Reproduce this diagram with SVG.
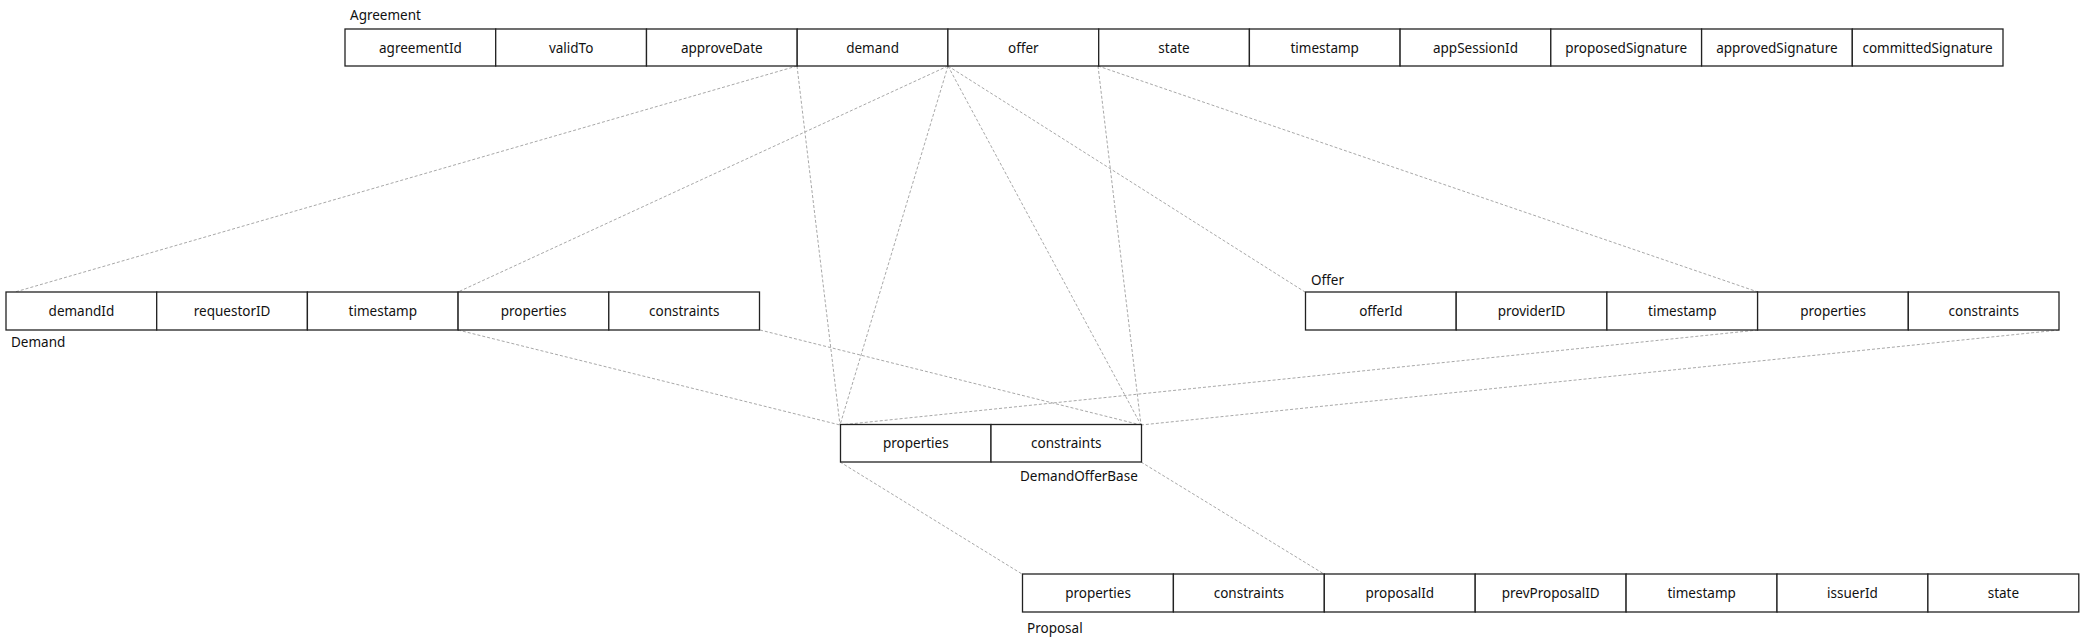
<svg xmlns="http://www.w3.org/2000/svg" width="2082" height="644" viewBox="0 0 2082 644">
<style>
.bg{fill:#ffffff}
.cell{fill:#ffffff;stroke:#222222;stroke-width:1.3}
.t{font-family:"Noto Sans","Open Sans","DejaVu Sans",sans-serif;font-size:13.5px;fill:#111111;text-anchor:middle}
.lbl{font-family:"Noto Sans","Open Sans","DejaVu Sans",sans-serif;font-size:13.5px;fill:#111111}
.con{stroke:#a8a8a8;stroke-width:1;stroke-dasharray:3,2;fill:none}
</style>
<rect class="bg" x="0" y="0" width="2082" height="644"/>
<g id="connectors">
<line class="con" x1="797" y1="66" x2="15" y2="292"/>
<line class="con" x1="797" y1="66" x2="840" y2="425"/>
<line class="con" x1="948" y1="66" x2="458" y2="292"/>
<line class="con" x1="948" y1="66" x2="840" y2="425"/>
<line class="con" x1="948" y1="66" x2="1141" y2="425"/>
<line class="con" x1="948" y1="66" x2="1305" y2="292"/>
<line class="con" x1="1098" y1="66" x2="1141" y2="425"/>
<line class="con" x1="1098" y1="66" x2="1758" y2="292"/>
<line class="con" x1="458" y1="330" x2="840" y2="425"/>
<line class="con" x1="760" y1="330" x2="1141" y2="425"/>
<line class="con" x1="1758" y1="330" x2="840" y2="425"/>
<line class="con" x1="2059" y1="330" x2="1141" y2="425"/>
<line class="con" x1="840" y1="462" x2="1022" y2="574"/>
<line class="con" x1="1141" y1="462" x2="1324" y2="574"/>
</g>
<g id="Agreement">
<text class="lbl" x="350" y="20">Agreement</text>
<rect class="cell" x="345" y="29" width="150.7" height="37"/>
<rect class="cell" x="495.7" y="29" width="150.8" height="37"/>
<rect class="cell" x="646.5" y="29" width="150.7" height="37"/>
<rect class="cell" x="797.2" y="29" width="150.7" height="37"/>
<rect class="cell" x="947.9" y="29" width="150.8" height="37"/>
<rect class="cell" x="1098.7" y="29" width="150.7" height="37"/>
<rect class="cell" x="1249.4" y="29" width="150.7" height="37"/>
<rect class="cell" x="1400.1" y="29" width="150.7" height="37"/>
<rect class="cell" x="1550.8" y="29" width="150.8" height="37"/>
<rect class="cell" x="1701.6" y="29" width="150.7" height="37"/>
<rect class="cell" x="1852.3" y="29" width="150.7" height="37"/>
<text class="t" x="420.4" y="52.5">agreementId</text>
<text class="t" x="571.1" y="52.5">validTo</text>
<text class="t" x="721.8" y="52.5">approveDate</text>
<text class="t" x="872.6" y="52.5">demand</text>
<text class="t" x="1023.3" y="52.5">offer</text>
<text class="t" x="1174" y="52.5">state</text>
<text class="t" x="1324.7" y="52.5">timestamp</text>
<text class="t" x="1475.5" y="52.5">appSessionId</text>
<text class="t" x="1626.2" y="52.5">proposedSignature</text>
<text class="t" x="1776.9" y="52.5">approvedSignature</text>
<text class="t" x="1927.6" y="52.5">committedSignature</text>
</g>
<g id="Demand">
<rect class="cell" x="6" y="292" width="150.7" height="38"/>
<rect class="cell" x="156.7" y="292" width="150.7" height="38"/>
<rect class="cell" x="307.4" y="292" width="150.7" height="38"/>
<rect class="cell" x="458.1" y="292" width="150.7" height="38"/>
<rect class="cell" x="608.8" y="292" width="150.7" height="38"/>
<text class="t" x="81.4" y="316">demandId</text>
<text class="t" x="232.1" y="316">requestorID</text>
<text class="t" x="382.8" y="316">timestamp</text>
<text class="t" x="533.5" y="316">properties</text>
<text class="t" x="684.2" y="316">constraints</text>
<text class="lbl" x="11" y="347">Demand</text>
</g>
<g id="Offer">
<text class="lbl" x="1311" y="285">Offer</text>
<rect class="cell" x="1305.5" y="292" width="150.7" height="38"/>
<rect class="cell" x="1456.2" y="292" width="150.7" height="38"/>
<rect class="cell" x="1606.9" y="292" width="150.7" height="38"/>
<rect class="cell" x="1757.6" y="292" width="150.7" height="38"/>
<rect class="cell" x="1908.3" y="292" width="150.7" height="38"/>
<text class="t" x="1380.9" y="316">offerId</text>
<text class="t" x="1531.6" y="316">providerID</text>
<text class="t" x="1682.3" y="316">timestamp</text>
<text class="t" x="1833" y="316">properties</text>
<text class="t" x="1983.7" y="316">constraints</text>
</g>
<g id="DemandOfferBase">
<rect class="cell" x="840.5" y="424.5" width="150.5" height="37.5"/>
<rect class="cell" x="991" y="424.5" width="150.5" height="37.5"/>
<text class="t" x="915.8" y="448">properties</text>
<text class="t" x="1066.3" y="448">constraints</text>
<text class="lbl" x="1020" y="481">DemandOfferBase</text>
</g>
<g id="Proposal">
<rect class="cell" x="1022.5" y="574" width="150.9" height="38"/>
<rect class="cell" x="1173.4" y="574" width="150.9" height="38"/>
<rect class="cell" x="1324.3" y="574" width="150.9" height="38"/>
<rect class="cell" x="1475.2" y="574" width="150.9" height="38"/>
<rect class="cell" x="1626.1" y="574" width="150.9" height="38"/>
<rect class="cell" x="1777" y="574" width="150.9" height="38"/>
<rect class="cell" x="1927.9" y="574" width="150.9" height="38"/>
<text class="t" x="1098" y="598">properties</text>
<text class="t" x="1248.9" y="598">constraints</text>
<text class="t" x="1399.8" y="598">proposalId</text>
<text class="t" x="1550.7" y="598">prevProposalID</text>
<text class="t" x="1701.6" y="598">timestamp</text>
<text class="t" x="1852.5" y="598">issuerId</text>
<text class="t" x="2003.4" y="598">state</text>
<text class="lbl" x="1027" y="633">Proposal</text>
</g>
</svg>
